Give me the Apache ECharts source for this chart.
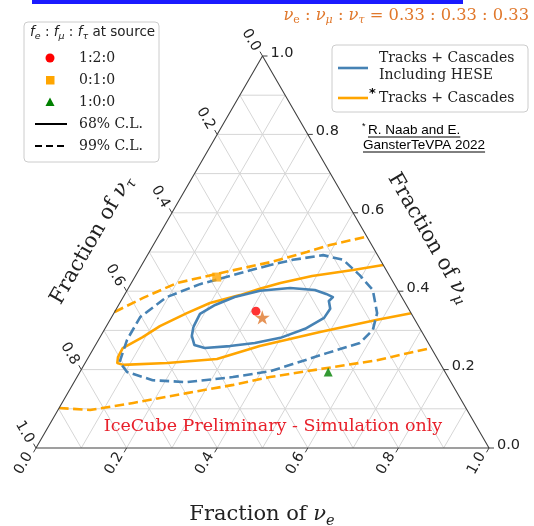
<!DOCTYPE html>
<html>
<head>
<meta charset="utf-8">
<script src="https://cdn.jsdelivr.net/npm/echarts@6/dist/echarts.min.js"></script>
<style>
  html, body { margin: 0; padding: 0; background: #fff; }
  #chart { width: 534px; height: 526px; }
</style>
</head>
<body>
<div id="chart"></div>
<script>
// Flavour compositions are stored as [f_e, f_mu]; f_tau = 1 - f_e - f_mu.

// Tracks + Cascades including HESE (closed contours)
const tcHese68 = [[0.193,0.309],[0.191,0.342],[0.213,0.365],[0.246,0.385],[0.294,0.401],[0.357,0.408],[0.414,0.403],[0.444,0.393],[0.463,0.385],[0.459,0.375],[0.472,0.355],[0.470,0.332],[0.442,0.304],[0.399,0.281],[0.349,0.268],[0.298,0.260],[0.245,0.255],[0.218,0.263],[0.201,0.286],[0.193,0.309]];
const tcHese99 = [[0.284,0.467],[0.214,0.441],[0.153,0.418],[0.096,0.385],[0.063,0.334],[0.063,0.276],[0.075,0.219],[0.104,0.194],[0.171,0.173],[0.249,0.168],[0.344,0.181],[0.419,0.196],[0.460,0.214],[0.521,0.242],[0.581,0.268],[0.593,0.301],[0.581,0.344],[0.542,0.403],[0.494,0.441],[0.438,0.480],[0.388,0.492],[0.327,0.480],[0.284,0.467]];

// Tracks + Cascades (contours open onto the triangle edges)
const tc68 = [[0.533,0.467],[0.473,0.454],[0.390,0.439],[0.329,0.421],[0.291,0.406],[0.255,0.390],[0.199,0.370],[0.161,0.344],[0.118,0.311],[0.094,0.283],[0.064,0.255],[0.065,0.232],[0.071,0.217],[0.086,0.212],[0.181,0.217],[0.286,0.227],[0.364,0.260],[0.479,0.296],[0.590,0.327],[0.656,0.344]];
const tc99Upper = [[0.000,0.347],[0.045,0.383],[0.101,0.421],[0.183,0.446],[0.280,0.474],[0.348,0.500],[0.390,0.518],[0.457,0.538]];
const tc99Lower = [[0.000,0.102],[0.071,0.097],[0.157,0.115],[0.263,0.140],[0.355,0.161],[0.426,0.181],[0.540,0.204],[0.641,0.224],[0.744,0.255]];

// Expected compositions at Earth for the source scenarios
const sourceLabels = ['1:2:0', '0:1:0', '1:0:0'];
const sourceFe  = [0.311, 0.181, 0.548];
const sourceFmu = [0.349, 0.436, 0.194];
const bestFit = [0.333, 0.333];

// Axis ticks and grid
const tickValues = [0.0, 0.2, 0.4, 0.6, 0.8, 1.0];
const tickLabels = ['0.0', '0.2', '0.4', '0.6', '0.8', '1.0'];
const gridSteps = [0.1, 0.2, 0.3, 0.4, 0.5, 0.6, 0.7, 0.8, 0.9];

const SQ = Math.sqrt(3) / 2;
const toXY = p => [p[0] + p[1] / 2, p[1] * SQ];

const ORANGE = '#ffa500';
const BLUE = '#4682b4';
const STAR = '#e0782c';
const SERIF = "'DejaVu Serif', serif";
const SANS = "'DejaVu Sans', sans-serif";

// grid segments: lines of constant f_mu, f_e and f_tau
const gridSegs = [];
gridSteps.forEach(v => {
  gridSegs.push([...toXY([0, v]), ...toXY([1 - v, v])]);
  gridSegs.push([...toXY([v, 0]), ...toXY([v, 1 - v])]);
  gridSegs.push([...toXY([1 - v, 0]), ...toXY([0, 1 - v])]);
});

const tickItems = [];
[0, 1, 2].forEach(ax => tickValues.forEach((v, i) => tickItems.push([ax, i])));

function contour(name, pts, color, dashed) {
  return {
    type: 'line', name, data: pts.map(toXY), symbol: 'none', showSymbol: false,
    smooth: false, clip: false, silent: true, z: 3,
    lineStyle: { color, width: 2.6, type: dashed ? [9.5, 4.5] : 'solid', cap: 'butt', join: 'round' }
  };
}

const starPath = 'path://M0,-1L0.2245,-0.309L0.951,-0.309L0.363,0.118L0.588,0.809L0,0.382L-0.588,0.809L-0.363,0.118L-0.951,-0.309L-0.2245,-0.309Z';

const mctx = document.createElement('canvas').getContext('2d');
function textWidth(str, font) { mctx.font = font; return mctx.measureText(str).width; }

// rich-text helpers for symbols with subscripts
function richSet(size, family, subSize, drop) {
  return {
    t:  { fontFamily: family, fontSize: size, lineHeight: size, verticalAlign: 'top', textVerticalAlign: 'top' },
    i:  { fontFamily: family, fontStyle: 'italic', fontSize: size, lineHeight: size, verticalAlign: 'top', textVerticalAlign: 'top' },
    s:  { fontFamily: family, fontStyle: 'italic', fontSize: subSize, lineHeight: subSize, padding: [drop, 0, 0, 0], verticalAlign: 'top', textVerticalAlign: 'top' },
    r:  { fontFamily: family, fontSize: subSize, lineHeight: subSize, padding: [drop, 0, 0, 0], verticalAlign: 'top', textVerticalAlign: 'top' }
  };
}

function label(x, y, text, opts) {
  return Object.assign({
    type: 'text', x, y, silent: true, z: 20,
    style: Object.assign({
      text, fill: '#222', align: 'left', textAlign: 'left',
      verticalAlign: 'middle', textVerticalAlign: 'middle'
    }, opts.style || {})
  }, opts.el || {});
}

const citeFont = "13.5px 'Liberation Sans', sans-serif";
const cite1 = 'R. Naab and E.';
const cite2 = 'GansterTeVPA 2022';

const graphics = [
  // link bar at the very top
  { type: 'rect', shape: { x: 32, y: 0, width: 431, height: 4 }, style: { fill: '#1a1aff' }, silent: true },

  // oscillation-averaged flavour ratio note
  label(529, 16, '{i|ν}{r|e}{t| : }{i|ν}{s|μ}{t| : }{i|ν}{s|τ}{t| = 0.33 : 0.33 : 0.33}', {
    style: { fill: STAR, align: 'right', textAlign: 'right', rich: richSet(16.3, SERIF, 11, 7) }
  }),

  // source legend
  { type: 'rect', shape: { x: 24, y: 22, width: 135, height: 140, r: 4 },
    style: { fill: 'rgba(255,255,255,0.85)', stroke: '#cccccc', lineWidth: 1 }, silent: true, z: 18 },
  label(30, 32, '{i|f}{s|e}{t| : }{i|f}{s|μ}{t| : }{i|f}{s|τ}{t| at source}', {
    style: { rich: richSet(13.5, SANS, 9.5, 6) }
  }),
  { type: 'circle', shape: { cx: 50, cy: 58, r: 4.5 }, style: { fill: '#ff0000' }, silent: true, z: 20 },
  { type: 'rect', shape: { x: 46, y: 76, width: 8.5, height: 8.5 }, style: { fill: ORANGE }, silent: true, z: 20 },
  { type: 'polygon', shape: { points: [[50, 97.5], [54.5, 106], [45.5, 106]] }, style: { fill: '#008000' }, silent: true, z: 20 },
  { type: 'line', shape: { x1: 35, y1: 124, x2: 67, y2: 124 }, style: { stroke: '#000', lineWidth: 2 }, silent: true, z: 20 },
  { type: 'line', shape: { x1: 35, y1: 146, x2: 67, y2: 146 }, style: { stroke: '#000', lineWidth: 2, lineDash: [7, 4] }, silent: true, z: 20 },
  label(79, 58, '1:2:0', { style: { font: '14px ' + SERIF } }),
  label(79, 80, '0:1:0', { style: { font: '14px ' + SERIF } }),
  label(79, 102, '1:0:0', { style: { font: '14px ' + SERIF } }),
  label(79, 124, '68% C.L.', { style: { font: '14px ' + SERIF } }),
  label(79, 146, '99% C.L.', { style: { font: '14px ' + SERIF } }),

  // sample legend
  { type: 'rect', shape: { x: 332, y: 45, width: 196, height: 67, r: 4 },
    style: { fill: 'rgba(255,255,255,0.85)', stroke: '#cccccc', lineWidth: 1 }, silent: true, z: 18 },
  { type: 'line', shape: { x1: 338, y1: 68, x2: 368, y2: 68 }, style: { stroke: BLUE, lineWidth: 2.6 }, silent: true, z: 20 },
  { type: 'line', shape: { x1: 338, y1: 98, x2: 368, y2: 98 }, style: { stroke: ORANGE, lineWidth: 2.6 }, silent: true, z: 20 },
  label(379, 58, 'Tracks + Cascades', { style: { font: '14px ' + SERIF } }),
  label(379, 75, 'Including HESE', { style: { font: '14px ' + SERIF } }),
  label(369, 94, '*', { style: { font: 'bold 13px ' + SANS, fill: '#000' } }),
  label(379, 98, 'Tracks + Cascades', { style: { font: '14px ' + SERIF } }),

  // reference note
  label(362, 127, '*', { style: { font: "9px 'Liberation Sans', sans-serif", fill: '#000' } }),
  label(368, 130, cite1, { style: { font: citeFont, fill: '#000' } }),
  { type: 'line', shape: { x1: 368, y1: 137, x2: 368 + textWidth(cite1, citeFont), y2: 137 }, style: { stroke: '#000', lineWidth: 1 }, silent: true, z: 20 },
  label(363, 145, cite2, { style: { font: citeFont, fill: '#000' } }),
  { type: 'line', shape: { x1: 363, y1: 152, x2: 363 + textWidth(cite2, citeFont), y2: 152 }, style: { stroke: '#000', lineWidth: 1 }, silent: true, z: 20 },

  // watermark
  label(273, 426, 'IceCube Preliminary - Simulation only', {
    style: { font: '17.5px ' + SERIF, fill: '#e8202a', align: 'center', textAlign: 'center' }
  }),

  // axis titles
  label(262, 515, '{t|Fraction of }{i|ν}{s|e}', {
    style: { align: 'center', textAlign: 'center', rich: richSet(21, SERIF, 14.5, 9) }
  }),
  label(92, 240, '{t|Fraction of }{i|ν}{s|τ}', {
    style: { align: 'center', textAlign: 'center', rich: richSet(21, SERIF, 14.5, 9) },
    el: { rotation: Math.PI / 3 }
  }),
  label(429, 238, '{t|Fraction of }{i|ν}{s|μ}', {
    style: { align: 'center', textAlign: 'center', rich: richSet(21, SERIF, 14.5, 9) },
    el: { rotation: -Math.PI / 3 }
  })
];

const option = {
  animation: false,
  grid: { left: 36, top: 56, width: 453, height: 392, containLabel: false },
  xAxis: { type: 'value', min: 0, max: 1, show: false },
  yAxis: { type: 'value', min: 0, max: SQ, show: false },
  graphic: graphics,
  series: [
    {
      type: 'custom', data: gridSegs, silent: true, z: 1,
      encode: { x: [0, 2], y: [1, 3] },
      renderItem: (params, api) => {
        const a = api.coord([api.value(0), api.value(1)]);
        const b = api.coord([api.value(2), api.value(3)]);
        return { type: 'line', shape: { x1: a[0], y1: a[1], x2: b[0], y2: b[1] },
                 style: { stroke: '#d6d6d6', lineWidth: 1 } };
      }
    },
    {
      type: 'line', data: [[0, 0], [1, 0], [0, 1], [0, 0]].map(toXY), symbol: 'none',
      silent: true, clip: false, z: 5, lineStyle: { color: '#404040', width: 1.1 }
    },
    {
      type: 'custom', data: tickItems, silent: true, z: 5,
      renderItem: (params, api) => {
        const ax = api.value(0), i = api.value(1), v = tickValues[i];
        const pt = ax === 0 ? [v, 0] : ax === 1 ? [1 - v, v] : [0, 1 - v];
        const p = api.coord(toXY(pt));
        const dir = ax === 0 ? [-0.5, SQ] : ax === 1 ? [1, 0] : [-0.5, -SQ];
        const rot = ax === 0 ? Math.PI / 3 : ax === 1 ? 0 : -Math.PI / 3;
        const L = 5, G = 3;
        const al = ax === 1 ? 'left' : 'right';
        return {
          type: 'group', children: [
            { type: 'line', shape: { x1: p[0], y1: p[1], x2: p[0] + dir[0] * L, y2: p[1] + dir[1] * L },
              style: { stroke: '#404040', lineWidth: 1 } },
            { type: 'text', x: p[0] + dir[0] * (L + G), y: p[1] + dir[1] * (L + G), rotation: rot,
              style: { text: tickLabels[i], x: 0, y: ax === 2 ? 2 : -3, fill: '#222',
                       font: '14.5px ' + SANS, align: al, textAlign: al,
                       verticalAlign: 'middle', textVerticalAlign: 'middle' } }
          ]
        };
      }
    },
    contour('Tracks + Cascades 99% upper', tc99Upper, ORANGE, true),
    contour('Tracks + Cascades 99% lower', tc99Lower, ORANGE, true),
    contour('Tracks + Cascades 68%', tc68, ORANGE, false),
    contour('Tracks + Cascades Including HESE 99%', tcHese99, BLUE, true),
    contour('Tracks + Cascades Including HESE 68%', tcHese68, BLUE, false),
    {
      type: 'scatter', name: sourceLabels[0], data: [toXY([sourceFe[0], sourceFmu[0]])],
      symbol: 'circle', symbolSize: 9, itemStyle: { color: '#ff0000' }, z: 6, silent: true
    },
    {
      type: 'scatter', name: sourceLabels[1], data: [toXY([sourceFe[1], sourceFmu[1]])],
      symbol: 'rect', symbolSize: 9, itemStyle: { color: ORANGE }, z: 6, silent: true
    },
    {
      type: 'scatter', name: sourceLabels[2], data: [toXY([sourceFe[2], sourceFmu[2]])],
      symbol: 'triangle', symbolSize: 9, itemStyle: { color: '#008000' }, z: 6, silent: true
    },
    {
      type: 'scatter', name: 'equal', data: [toXY(bestFit)],
      symbol: starPath, symbolKeepAspect: true, symbolSize: 15, itemStyle: { color: STAR }, z: 7, silent: true
    }
  ]
};

const chart = echarts.init(document.getElementById('chart'), null, { renderer: 'canvas' });
chart.setOption(option);
</script>
</body>
</html>
